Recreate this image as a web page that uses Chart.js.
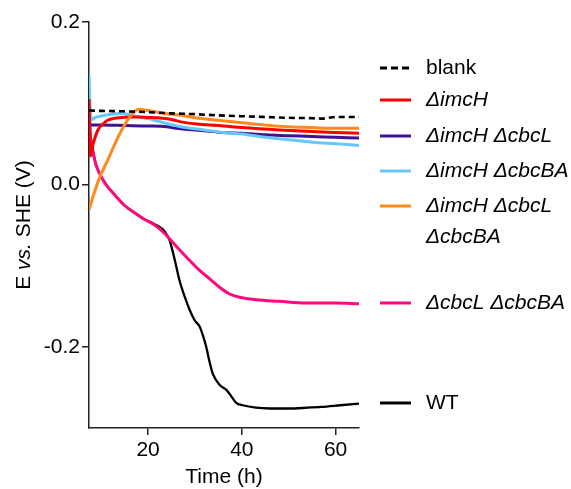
<!DOCTYPE html>
<html>
<head>
<meta charset="utf-8">
<script src="https://cdn.jsdelivr.net/npm/chart.js@4/dist/chart.umd.min.js"></script>
<style>
  html, body { margin: 0; padding: 0; background: #fff; }
  #c { display: block; }
</style>
</head>
<body>
<canvas id="c" width="571" height="489"></canvas>
<script>
// ---------- data ----------
const tBlank = [7.4, 10, 15, 20, 25, 30, 35, 40, 45, 50, 55, 57, 60, 65];
const vBlank = [0.091, 0.0905, 0.090, 0.089, 0.0875, 0.0865, 0.085, 0.084, 0.083, 0.082, 0.0815, 0.081, 0.083, 0.083];

const tImcH = [7.4, 7.55, 7.7, 8.2, 9.3, 10.5, 11.4, 12.5, 14.3, 16, 18, 20, 22, 25, 27, 31, 36, 40, 48, 55, 60, 65];
const vImcH = [0.105, 0.070, 0.035, 0.048, 0.067, 0.075, 0.079, 0.081, 0.0825, 0.083, 0.083, 0.0825, 0.082, 0.080, 0.077, 0.074, 0.072, 0.070, 0.067, 0.065, 0.064, 0.063];

const tImcHCbcL = [7.4, 10, 15, 20, 24, 26, 28, 32, 36, 40, 45, 50, 55, 60, 65];
const vImcHCbcL = [0.073, 0.073, 0.0725, 0.072, 0.071, 0.069, 0.068, 0.066, 0.064, 0.063, 0.061, 0.060, 0.059, 0.058, 0.057];

const tImcHCbcBA = [7.4, 7.6, 7.9, 9, 10.7, 12.6, 14.3, 16, 18, 20, 22, 24, 27, 32, 36, 40, 45, 50, 55, 60, 65];
const vImcHCbcBA = [0.135, 0.100, 0.080, 0.083, 0.085, 0.0866, 0.0872, 0.086, 0.083, 0.081, 0.078, 0.075, 0.071, 0.067, 0.064, 0.062, 0.058, 0.055, 0.052, 0.050, 0.048];

const tTriple = [7.4, 8.6, 9.7, 11.4, 13.3, 14.3, 15.5, 17.1, 18, 19, 21, 24, 27, 30, 35, 40, 45, 50, 55, 60, 65];
const vTriple = [-0.031, -0.009, 0.009, 0.030, 0.0546, 0.066, 0.078, 0.0895, 0.0925, 0.092, 0.090, 0.087, 0.085, 0.082, 0.079, 0.076, 0.073, 0.071, 0.070, 0.069, 0.069];

const tCbcLCbcBA = [7.4, 7.7, 8.2, 8.9, 10.0, 11.4, 12.9, 15.0, 17.1, 19.2, 21.4, 23.1, 24.6, 26.3, 28.1, 31, 33.1, 35.3, 37.4, 39.5, 43, 48, 53.7, 60, 65];
const vCbcLCbcBA = [0.100, 0.060, 0.042, 0.024, 0.0094, -0.003, -0.013, -0.026, -0.035, -0.043, -0.050, -0.058, -0.067, -0.078, -0.089, -0.106, -0.116, -0.127, -0.135, -0.139, -0.142, -0.144, -0.146, -0.146, -0.147];

const tWT = [7.7, 8.2, 8.9, 10.0, 11.4, 12.9, 15.0, 17.1, 19.2, 21.4, 23.1, 24.0, 24.6, 25.0, 25.7, 26.7, 27.8, 28.9, 29.9, 31, 31.7, 32.4, 33.1, 33.8, 35.3, 36.7, 37.4, 38.8, 40.2, 43, 46, 50, 54, 57, 61, 65];
const vWT = [0.060, 0.042, 0.024, 0.0094, -0.003, -0.013, -0.026, -0.035, -0.043, -0.049, -0.055, -0.062, -0.069, -0.077, -0.093, -0.118, -0.138, -0.155, -0.167, -0.175, -0.186, -0.200, -0.218, -0.233, -0.247, -0.253, -0.258, -0.269, -0.272, -0.275, -0.276, -0.276, -0.275, -0.274, -0.272, -0.270];

const xTicks = [20, 40, 60];
const yTicks = [-0.2, 0.0, 0.2];

const seriesLabels = ['blank', 'ΔimcH', 'ΔimcH ΔcbcL', 'ΔimcH ΔcbcBA', ['ΔimcH ΔcbcL', 'ΔcbcBA'], 'ΔcbcL ΔcbcBA', 'WT'];
const seriesColors = ['#000000', '#ff0000', '#3f1290', '#66c8fa', '#ff8a1c', '#ff0a7c', '#000000'];

// ---------- build datasets ----------
function pts(t, v) { return t.map((x, i) => ({ x: x, y: v[i] })); }
const series = [
  pts(tBlank, vBlank), pts(tImcH, vImcH), pts(tImcHCbcL, vImcHCbcL), pts(tImcHCbcBA, vImcHCbcBA),
  pts(tTriple, vTriple), pts(tCbcLCbcBA, vCbcLCbcBA), pts(tWT, vWT)
];
const drawOrder = [0, 2, 4, 3, 1, 5, 6];   // lower = drawn on top
const widths = [2.6, 3, 3, 3, 3, 3, 2.3];

const datasets = series.map((d, i) => ({
  data: d,
  borderColor: seriesColors[i],
  borderWidth: widths[i],
  borderDash: i === 0 ? [6, 4] : [],
  pointRadius: 0,
  cubicInterpolationMode: 'monotone',
  fill: false,
  order: drawOrder[i]
}));

const FONT = "'Liberation Sans', Arial, sans-serif";
const legendY = [68, 100, 136, 171, 206, 303, 403];

const extras = {
  id: 'extras',
  afterDraw(chart) {
    const ctx = chart.ctx;
    ctx.save();
    // y-axis title with italic "vs."
    ctx.fillStyle = '#000';
    ctx.textBaseline = 'middle';
    const parts = [['E ', 'normal'], ['vs.', 'italic'], [' SHE (V)', 'normal']];
    let total = 0;
    parts.forEach(p => { ctx.font = p[1] + ' 21px ' + FONT; total += ctx.measureText(p[0]).width; });
    ctx.translate(24, 225);
    ctx.rotate(-Math.PI / 2);
    let x = -total / 2;
    ctx.textAlign = 'left';
    parts.forEach(p => { ctx.font = p[1] + ' 21px ' + FONT; ctx.fillText(p[0], x, 0); x += ctx.measureText(p[0]).width; });
    ctx.restore();

    ctx.save();
    // x-axis title
    ctx.fillStyle = '#000';
    ctx.font = '21px ' + FONT;
    ctx.textAlign = 'center';
    ctx.textBaseline = 'middle';
    const xs = chart.scales.x;
    ctx.fillText('Time (h)', (xs.left + xs.right) / 2, 477);

    // legend
    seriesLabels.forEach((lab, i) => {
      const y = legendY[i];
      ctx.beginPath();
      ctx.strokeStyle = seriesColors[i];
      ctx.lineWidth = 3;
      ctx.setLineDash(i === 0 ? [7, 4] : []);
      ctx.moveTo(380, y);
      ctx.lineTo(411, y);
      ctx.stroke();
      ctx.setLineDash([]);
      const italic = !(i === 0 || i === 6);
      ctx.font = (italic ? 'italic ' : '') + '21px ' + FONT;
      ctx.textAlign = 'left';
      const lines = Array.isArray(lab) ? lab : [lab];
      lines.forEach((l, k) => ctx.fillText(l, 426, y + k * 31));
    });
    ctx.restore();
  }
};

new Chart(document.getElementById('c'), {
  type: 'line',
  data: { datasets: datasets },
  plugins: [extras],
  options: {
    responsive: false,
    animation: false,
    devicePixelRatio: 1,
    layout: { padding: { left: 0, top: 22, right: 212, bottom: 0 } },
    plugins: { legend: { display: false }, tooltip: { enabled: false } },
    scales: {
      x: {
        type: 'linear',
        min: 7.4, max: 65,
        afterBuildTicks: s => { s.ticks = xTicks.map(v => ({ value: v })); },
        afterFit: s => { s.height = 61; },
        ticks: { color: '#000', font: { family: FONT, size: 21 }, padding: 3, maxRotation: 0, autoSkip: false,
                 callback: v => String(v) },
        grid: { drawOnChartArea: false, drawTicks: true, tickLength: 7, color: '#222', lineWidth: 1.5 },
        border: { display: true, color: '#222', width: 1.5 }
      },
      y: {
        min: -0.3, max: 0.2,
        afterBuildTicks: s => { s.ticks = yTicks.map(v => ({ value: v })); },
        afterFit: s => { s.width = 89; },
        ticks: { color: '#000', font: { family: FONT, size: 21 }, padding: 2, autoSkip: false,
                 callback: v => Number(v).toFixed(1) },
        grid: { drawOnChartArea: false, drawTicks: true, tickLength: 7, color: '#222', lineWidth: 1.5 },
        border: { display: true, color: '#222', width: 1.5 }
      }
    }
  }
});
</script>
</body>
</html>
